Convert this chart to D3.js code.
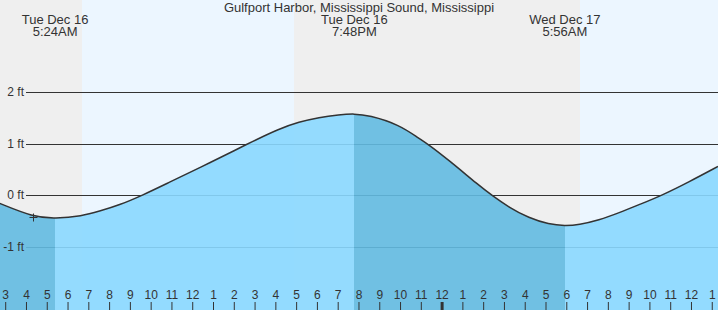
<!DOCTYPE html>
<html>
<head>
<meta charset="utf-8">
<script src="https://cdn.jsdelivr.net/npm/d3@7"></script>
<style>
  html, body { margin: 0; padding: 0; background: #fff; }
  svg { display: block; font-family: "Liberation Sans", Arial, sans-serif; }
</style>
</head>
<body>
<svg id="tide" width="718" height="310"></svg>
<script>
// ---- data ----
const title = "Gulfport Harbor, Mississippi Sound, Mississippi";

// tide height readings (ft)
const readTimes = [
  "2025-12-16T02:42", "2025-12-16T04:21", "2025-12-16T05:24", "2025-12-16T06:42",
  "2025-12-16T07:31", "2025-12-16T08:29", "2025-12-16T09:36", "2025-12-16T10:53",
  "2025-12-16T12:20", "2025-12-16T14:15", "2025-12-16T14:44", "2025-12-16T16:11",
  "2025-12-16T17:08", "2025-12-16T18:06", "2025-12-16T19:04", "2025-12-16T19:48",
  "2025-12-16T20:30", "2025-12-16T21:57", "2025-12-16T22:55", "2025-12-16T23:19",
  "2025-12-17T00:21", "2025-12-17T01:48", "2025-12-17T02:25", "2025-12-17T03:14",
  "2025-12-17T04:12", "2025-12-17T05:10", "2025-12-17T05:56", "2025-12-17T06:36",
  "2025-12-17T07:34", "2025-12-17T08:32", "2025-12-17T09:34", "2025-12-17T10:36",
  "2025-12-17T11:54", "2025-12-17T13:18"
];
const readHeights = [
  -0.15, -0.42, -0.45, -0.40,
  -0.31, -0.19, 0.00, 0.25,
  0.53, 0.91, 1.01, 1.29,
  1.42, 1.51, 1.56, 1.58,
  1.55, 1.37, 1.10, 1.00,
  0.68, 0.19, 0.00, -0.23,
  -0.44, -0.56, -0.59, -0.57,
  -0.48, -0.34, -0.17, 0.00,
  0.26, 0.56
];

// high / low tide events (labelled at top)
const extremeTimes = ["2025-12-16T05:24", "2025-12-16T19:48", "2025-12-17T05:56"];
const extremeDays = ["Tue Dec 16", "Tue Dec 16", "Wed Dec 17"];
const extremeClock = ["5:24AM", "7:48PM", "5:56AM"];

// sunrise / sunset / sunrise
const sunTimes = ["2025-12-16T06:42", "2025-12-16T16:54", "2025-12-17T06:40"];

// "now" marker
const nowTime = "2025-12-16T04:21";
const nowHeight = -0.42;

const gridFeet = [-1, 0, 1, 2];
const startTime = "2025-12-16T02:45";
const endTime = "2025-12-17T13:18";

// ---- chart ----
const parse = d3.isoParse;
const W = 718, H = 310;
const svg = d3.select("svg#tide");

const x = d3.scaleTime()
  .domain([parse(startTime), parse(endTime)])
  .range([0, W]);

const y = d3.scaleLinear()
  .domain([-1, 2])
  .range([247, 92]);

const data = readTimes.map((t, i) => ({ t: parse(t), h: readHeights[i] }));
const ext = extremeTimes.map(parse);
const sun = sunTimes.map(parse);

// background: night grey / day light blue
const bands = [
  { a: x.domain()[0], b: sun[0], night: true },
  { a: sun[0], b: sun[1], night: false },
  { a: sun[1], b: sun[2], night: true },
  { a: sun[2], b: x.domain()[1], night: false }
];
svg.append("g").selectAll("rect")
  .data(bands)
  .join("rect")
  .attr("x", d => Math.round(x(d.a)))
  .attr("y", 0)
  .attr("width", d => Math.round(x(d.b)) - Math.round(x(d.a)))
  .attr("height", H)
  .attr("fill", d => d.night ? "#efefef" : "#ecf6ff");

// grid lines (under the water)
const yGrid = y.copy().interpolate(d3.interpolateRound);
svg.append("g")
  .attr("transform", "translate(26,0)")
  .call(d3.axisLeft(yGrid).tickValues(gridFeet).tickSizeInner(-(W - 26)).tickSizeOuter(0).tickFormat(""))
  .call(g => g.select(".domain").remove())
  .call(g => g.selectAll("line").attr("stroke", "#333"));

// water: darker while falling, lighter while rising
const area = d3.area()
  .x(d => x(d.t))
  .y0(H)
  .y1(d => y(d.h))
  .curve(d3.curveBasis);

const fillBands = [
  { a: x.domain()[0], b: ext[0], fall: true },
  { a: ext[0], b: ext[1], fall: false },
  { a: ext[1], b: ext[2], fall: true },
  { a: ext[2], b: x.domain()[1], fall: false }
];
const defs = svg.append("defs");
fillBands.forEach((d, i) => {
  defs.append("clipPath").attr("id", "clip" + i)
    .append("rect")
    .attr("x", Math.round(x(d.a))).attr("y", 0)
    .attr("width", Math.round(x(d.b)) - Math.round(x(d.a))).attr("height", H);
  svg.append("path")
    .datum(data)
    .attr("clip-path", "url(#clip" + i + ")")
    .attr("d", area)
    .attr("fill", d.fall ? "#62bae1" : "#89d8ff")
    .attr("fill-opacity", 0.9);
});

// tide curve
svg.append("path")
  .datum(data)
  .attr("d", d3.line().x(d => x(d.t)).y(d => y(d.h)).curve(d3.curveBasis))
  .attr("fill", "none")
  .attr("stroke", "#333")
  .attr("stroke-width", 1.5);

// now marker
const nx = Math.round(x(parse(nowTime))) + 0.5, ny = Math.round(y(nowHeight)) + 0.5;
svg.append("path")
  .attr("d", `M${nx - 4},${ny}H${nx + 4}M${nx},${ny - 4}V${ny + 4}`)
  .attr("stroke", "#333")
  .attr("stroke-width", 1);

// y labels
svg.append("g")
  .attr("transform", "translate(26,0)")
  .call(d3.axisLeft(yGrid).tickValues(gridFeet).tickSize(0).tickPadding(2).tickFormat(d => d + " ft"))
  .call(g => g.select(".domain").remove())
  .call(g => g.selectAll("text")
    .attr("fill", "#333")
    .style("font-size", "12px")
    .style("font-family", "'Liberation Sans', Arial, sans-serif"));

// hour ticks along the bottom
const hourAxis = svg.append("g")
  .attr("transform", "translate(0," + H + ")")
  .call(d3.axisTop(x)
    .ticks(d3.timeHour.every(1))
    .tickSize(8)
    .tickPadding(3)
    .tickFormat(d3.timeFormat("%-I")));
hourAxis.select(".domain").remove();
hourAxis.selectAll("line")
  .attr("stroke", "#333")
  .attr("stroke-width", d => d.getHours() === 0 ? 3 : 1);
hourAxis.selectAll("text")
  .attr("fill", "#333")
  .style("font-size", "12px")
  .style("font-family", "'Liberation Sans', Arial, sans-serif");

// title and tide event labels
const txt = svg.append("g")
  .attr("fill", "#333")
  .attr("font-size", 13)
  .attr("text-anchor", "middle");
txt.append("text").attr("x", W / 2).attr("y", 12).text(title);
ext.forEach((t, i) => {
  txt.append("text").attr("x", x(t)).attr("y", 24).text(extremeDays[i]);
  txt.append("text").attr("x", x(t)).attr("y", 36).text(extremeClock[i]);
});
</script>
</body>
</html>
